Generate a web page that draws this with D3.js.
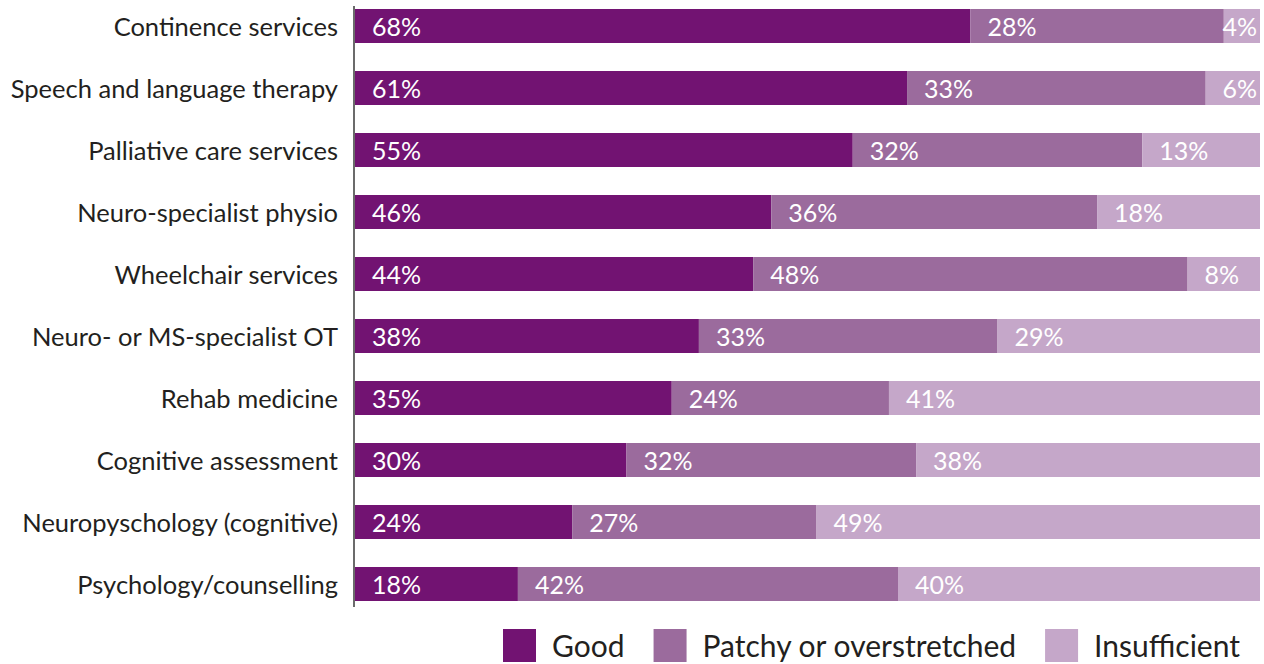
<!DOCTYPE html>
<html>
<head>
<meta charset="utf-8">
<script src="https://cdn.jsdelivr.net/npm/d3@7/dist/d3.min.js"></script>
<style>
  html, body { margin: 0; padding: 0; background: #ffffff; }
  svg { display: block; }
  text { font-family: "Lato", "Open Sans", "Noto Sans", sans-serif; }
</style>
</head>
<body>
<svg id="chart" width="1264" height="664"></svg>
<script>
// Services, top to bottom
const categories = [
  "Continence services",
  "Speech and language therapy",
  "Palliative care services",
  "Neuro-specialist physio",
  "Wheelchair services",
  "Neuro- or MS-specialist OT",
  "Rehab medicine",
  "Cognitive assessment",
  "Neuropyschology (cognitive)",
  "Psychology/counselling"
];

// Share of respondents (%) per rating
const good         = [68, 61, 55, 46, 44, 38, 35, 30, 24, 18];
const patchy       = [28, 33, 32, 36, 48, 33, 24, 32, 27, 42];
const insufficient = [ 4,  6, 13, 18,  8, 29, 41, 38, 49, 40];

const seriesNames = ["Good", "Patchy or overstretched", "Insufficient"];
const seriesColors = ["#721372", "#9b6b9d", "#c5a7c9"];

const rows = categories.map((c, i) => ({
  category: c,
  "Good": good[i],
  "Patchy or overstretched": patchy[i],
  "Insufficient": insufficient[i]
}));

const svg = d3.select("#chart");

const plotLeft = 355, plotRight = 1260;

const x = d3.scaleLinear().domain([0, 100]).range([plotLeft, plotRight]);

const y = d3.scaleBand()
  .domain(categories)
  .range([-5, 615])
  .paddingInner(28 / 62)
  .paddingOuter(14 / 62);

const stacked = d3.stack().keys(seriesNames)(rows);

// Stacked segments
const layers = svg.append("g").selectAll("g")
  .data(stacked)
  .join("g")
  .attr("fill", (d, i) => seriesColors[i]);

layers.selectAll("rect")
  .data(d => d)
  .join("rect")
  .attr("x", d => x(d[0]))
  .attr("y", d => y(d.data.category))
  .attr("width", d => x(d[1]) - x(d[0]))
  .attr("height", y.bandwidth());

// Value labels inside each segment
const labelLayer = svg.append("g");
stacked.forEach(layer => {
  layer.forEach(d => {
    const v = d.data[layer.key];
    const t = labelLayer.append("text")
      .attr("y", y(d.data.category) + y.bandwidth() / 2)
      .attr("dy", "0.38em")
      .attr("fill", "#ffffff")
      .attr("font-size", 25)
      .text(v + "%");
    const w = t.node().getComputedTextLength();
    const px = Math.min(x(d[0]) + 17, plotRight - w - 3);
    t.attr("x", px);
  });
});

// Category axis
const yAxis = d3.axisLeft(y).tickSize(0).tickPadding(16);
const yAxisG = svg.append("g")
  .attr("transform", `translate(${plotLeft - 1},0)`)
  .call(yAxis);
yAxisG.select(".domain").remove();
yAxisG.selectAll("text")
  .attr("font-size", 25.5)
  .attr("fill", "#231f20")
  .attr("dy", "0.38em");

svg.append("line")
  .attr("x1", plotLeft - 1).attr("x2", plotLeft - 1)
  .attr("y1", 6).attr("y2", 607)
  .attr("stroke", "#3a3a3a")
  .attr("stroke-width", 1.5);

// Legend
const legend = svg.append("g");
let lx = 503;
seriesNames.forEach((name, i) => {
  legend.append("rect")
    .attr("x", lx).attr("y", 629)
    .attr("width", 33).attr("height", 33)
    .attr("fill", seriesColors[i]);
  const t = legend.append("text")
    .attr("x", lx + 49).attr("y", 645.5)
    .attr("dy", "0.38em")
    .attr("font-size", 30)
    .attr("fill", "#231f20")
    .text(name);
  lx += 49 + t.node().getComputedTextLength() + 29;
});
</script>
</body>
</html>
